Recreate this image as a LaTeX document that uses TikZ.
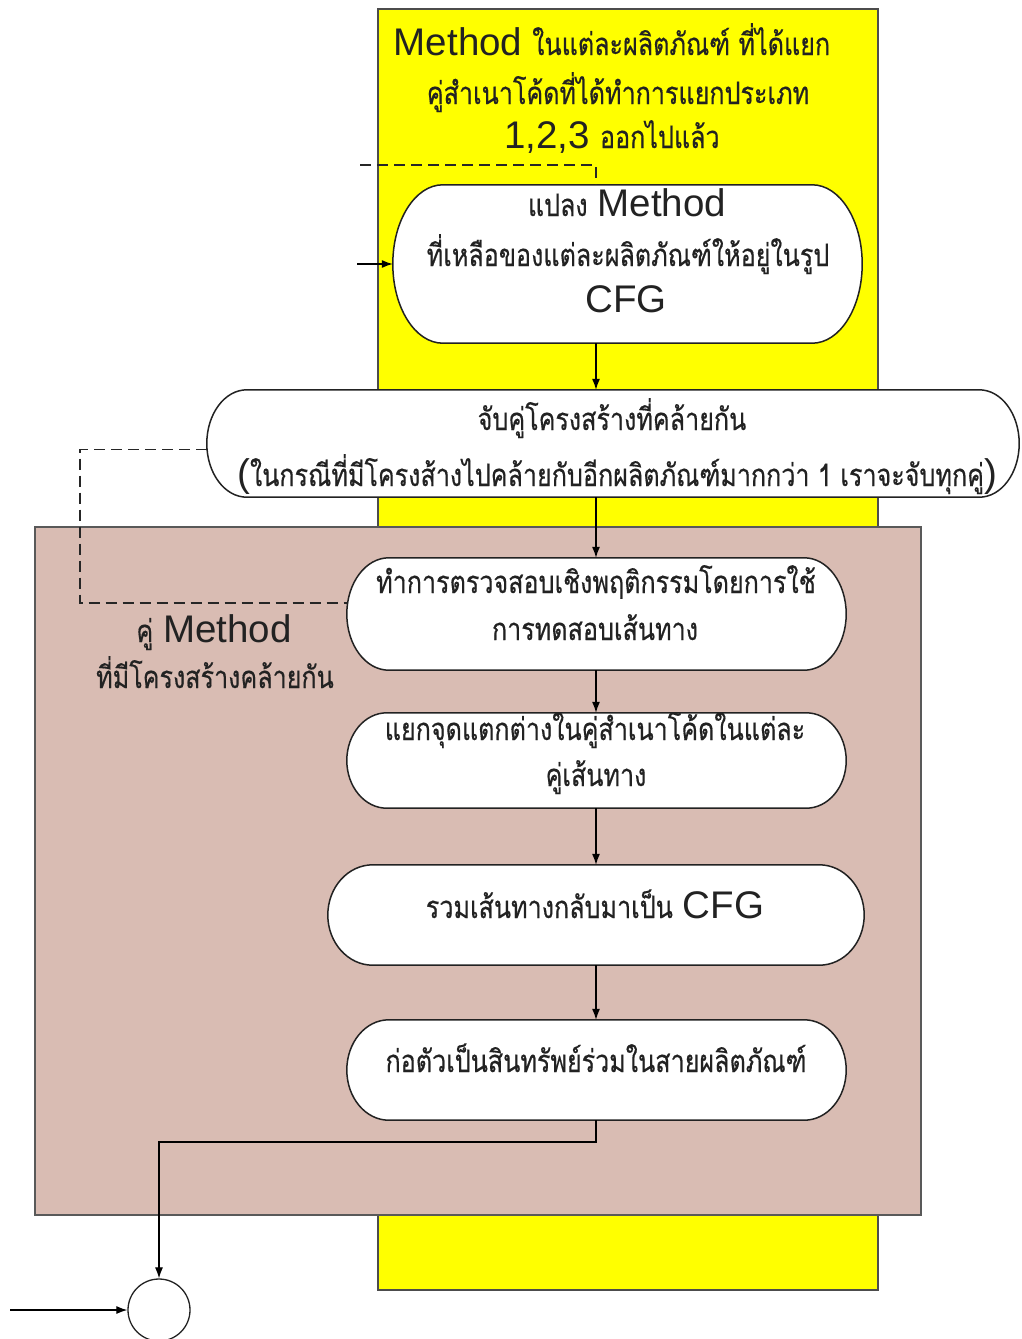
\documentclass[tikz,border=0pt]{standalone}
\usepackage{fontspec}
\setmainfont{Liberation Sans}
\newfontfamily\thaifont[Script=Thai,FakeStretch=0.81,FakeBold=0.4]{Loma}
\usetikzlibrary{arrows.meta,calc}
\definecolor{lane}{HTML}{FFFF00}
\definecolor{pairbg}{HTML}{D9BCB3}
\definecolor{ink}{HTML}{222222}
\newcommand\thaitxt[1]{{\thaifont\fontsize{31}{34}\selectfont #1}}
\newcommand\latintxt[1]{{\fontsize{38.5}{42}\selectfont #1}}
\newcommand\gap{\hspace{10pt}}
% terminator outline with elliptical ends around a holder node
\newcommand\termoutline[2]{%
  \draw[termline] let \p1=(#1.north west), \p2=(#1.south east), \n1={(\y1-\y2)/2} in
    (\x1+#2,\y1) -- (\x2-#2,\y1) arc[start angle=90,end angle=-90,x radius=#2,y radius=\n1]
    -- (\x1+#2,\y2) arc[start angle=270,end angle=90,x radius=#2,y radius=\n1] -- cycle;}
\tikzset{
  holder/.style={rectangle,draw=none,inner sep=0pt},
  termline/.style={draw=ink,fill=white,line width=1.5pt},
  txt/.style={anchor=base,inner sep=0pt,text=ink},
  arr/.style={draw=black,line width=1.2pt,-{Latex[length=11pt,width=8pt]}},
  dashline/.style={draw=black!85,line width=1.4pt,dash pattern=on 11pt off 6pt},
}
\begin{document}
\begin{tikzpicture}[x=1pt,y=1pt]
\fill[white] (0,0) rectangle (1021,-1339);
\useasboundingbox (0,0) rectangle (1021,-1339);

% background regions
\draw[fill=lane,draw=black!70,line width=1.3pt] (378,-9) rectangle (878,-1290);
\draw[fill=pairbg,draw=black!65,line width=1.9pt] (35,-527) rectangle (921,-1215);

\coordinate (spine) at (596,0);

% process shapes
\node[holder,minimum width=469pt,minimum height=158pt] (s1) at (627.5,-264) {};
\node[holder,minimum width=812pt,minimum height=107pt] (s2) at (613,-443.5) {};
\node[holder,minimum width=499pt,minimum height=112pt] (s3) at (596.5,-614) {};
\node[holder,minimum width=499pt,minimum height=95pt] (s4) at (596.5,-760.5) {};
\node[holder,minimum width=536pt,minimum height=100pt] (s5) at (596,-915) {};
\node[holder,minimum width=499pt,minimum height=100pt] (s6) at (596.5,-1070) {};
\termoutline{s1}{50pt}
\termoutline{s2}{40pt}
\termoutline{s3}{42pt}
\termoutline{s4}{40pt}
\termoutline{s5}{45pt}
\termoutline{s6}{42pt}

% end state
\node[circle,draw=ink,line width=1.3pt,minimum size=62pt,inner sep=0pt] (circ) at (159,-1310) {};

% texts
\node[txt] (title1) at (612,-55) {\latintxt{Method}\gap\thaitxt{ในแต่ละผลิตภัณฑ์ ที่ได้แยก}};
\node[txt] (title2) at (618,-104) {\thaitxt{คู่สำเนาโค้ดที่ได้ทำการแยกประเภท}};
\node[txt] (title3) at (612,-148) {\latintxt{1,2,3}\gap\thaitxt{ออกไปแล้ว}};

\node[txt] (t1a) at (627,-216) {\thaitxt{แปลง}\gap\latintxt{Method}};
\node[txt] (t1b) at (628,-266) {\thaitxt{ที่เหลือของแต่ละผลิตภัณฑ์ให้อยู่ในรูป}};
\node[txt] (t1c) at (626,-312) {\latintxt{CFG}};

\node[txt] (t2a) at (612,-430) {\thaitxt{จับคู่โครงสร้างที่คล้ายกัน}};
\node[txt] (t2b) at (617,-486) {\latintxt{(}\thaitxt{ในกรณีที่มีโครงส้างไปคล้ายกับอีกผลิตภัณฑ์มากกว่า 1 เราจะจับทุกคู่}\latintxt{)}};

\node[txt] (t3a) at (596,-593) {\thaitxt{ทำการตรวจสอบเชิงพฤติกรรมโดยการใช้}};
\node[txt] (t3b) at (595,-640) {\thaitxt{การทดสอบเส้นทาง}};

\node[txt] (t4a) at (595,-740) {\thaitxt{แยกจุดแตกต่างในคู่สำเนาโค้ดในแต่ละ}};
\node[txt] (t4b) at (596,-786) {\thaitxt{คู่เส้นทาง}};

\node[txt] (t5) at (595,-918) {\thaitxt{รวมเส้นทางกลับมาเป็น}\gap\latintxt{CFG}};
\node[txt] (t6) at (596,-1072) {\thaitxt{ก่อตัวเป็นสินทรัพย์ร่วมในสายผลิตภัณฑ์}};

\node[txt] (pairA) at (214,-642) {\thaitxt{คู่}\gap\latintxt{Method}};
\node[txt] (pairB) at (215,-688) {\thaitxt{ที่มีโครงสร้างคล้ายกัน}};

% connectors
\coordinate (in1) at (357,-264);
\draw[arr] (in1) -- (s1.west);
\coordinate (d1) at (360,-165);
\draw[dashline] (d1) -- (d1 -| spine) -- (s1.north -| spine);
\draw[arr] (s1.south -| spine) -- (s2.north -| spine);
\draw[arr] (s2.south -| spine) -- (s3.north -| spine);
\coordinate (dl) at (80,-603);
\draw[dashline] ($(s2.west)+(0,-6)$) -- ($(s2.west -| dl)+(0,-6)$) -- (dl) -- ($(dl -| s3.west)+(1,0)$);
\draw[arr] (s3.south -| spine) -- (s4.north -| spine);
\draw[arr] (s4.south -| spine) -- (s5.north -| spine);
\draw[arr] (s5.south -| spine) -- (s6.north -| spine);
\coordinate (bend) at (596,-1142);
\draw[arr] (s6.south -| spine) -- (bend) -| (circ.north);
\coordinate (in2) at (10,-1310);
\draw[arr] (in2) -- (circ.west);
\end{tikzpicture}
\end{document}
